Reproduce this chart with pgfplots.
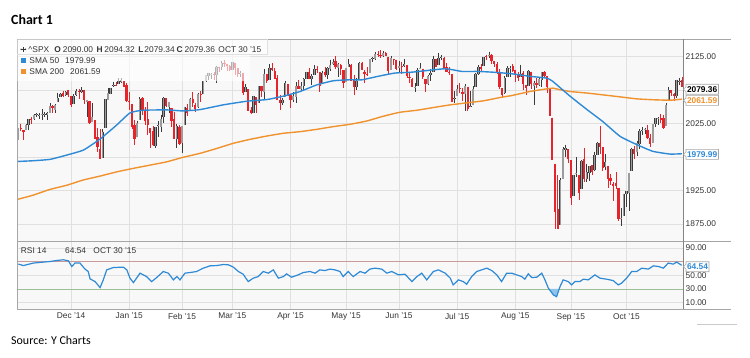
\documentclass[border=0pt]{standalone}
\usepackage{pgfplots}
\pgfplotsset{compat=1.18}
\usepackage{pgfplotstable}
\usepackage{fontspec}
\setmainfont{Liberation Sans}
\newfontfamily\carlito{Carlito}
\definecolor{plotbg}{HTML}{F8F8F8}
\definecolor{gridc}{HTML}{E0E0E0}
\definecolor{framec}{HTML}{A6A6A6}
\definecolor{smablue}{HTML}{2F8AD6}
\definecolor{smaorange}{HTML}{F0922E}
\definecolor{candred}{HTML}{E5252B}
\definecolor{candgray}{HTML}{9C9C9C}
\definecolor{canddark}{HTML}{3A3A3A}
\definecolor{rsired}{HTML}{C99A9A}
\definecolor{rsigreen}{HTML}{9DBF98}
\definecolor{dipfill}{HTML}{8EC3EC}
\definecolor{txtc}{HTML}{333333}
\newcommand{\chartfont}{\fontsize{8.4}{10}\selectfont}

\pgfplotstableread{
i o h l c
0 2001.2 2018.7 2001.2 2018.05
1 2018.2 2024.5 2013.7 2017.81
2 2015.8 2015.8 2001.0 2012.10
3 2015.3 2023.8 2015.3 2023.57
4 2023.3 2031.6 2015.9 2031.21
5 2032.4 2034.3 2025.1 2031.92
6 2032.0 2038.7 2030.2 2038.26
7 2038.2 2041.3 2035.3 2039.68
8 2037.8 2040.3 2031.3 2038.25
9 2039.2 2046.2 2030.4 2039.33
10 2039.7 2042.2 2035.2 2039.82
11 2038.3 2043.1 2030.2 2041.32
12 2041.5 2056.1 2041.5 2051.80
13 2051.2 2052.1 2040.4 2048.72
14 2045.9 2053.8 2040.5 2052.75
15 2057.5 2071.5 2056.8 2063.50
16 2065.1 2070.2 2065.1 2069.41
17 2070.2 2074.2 2064.8 2067.03
18 2067.4 2073.3 2066.6 2072.83
19 2074.8 2075.8 2065.1 2067.56
20 2065.8 2065.8 2049.6 2053.44
21 2053.8 2068.8 2053.8 2066.55
22 2067.5 2076.3 2066.6 2074.33
23 2073.6 2077.3 2062.3 2071.92
24 2072.8 2079.5 2070.8 2075.37
25 2074.8 2075.8 2054.3 2060.31
26 2056.6 2060.6 2034.2 2059.82
27 2058.9 2058.9 2024.3 2026.14
28 2027.9 2055.5 2027.9 2035.33
29 2030.4 2030.4 2002.3 2002.33
30 2005.0 2018.7 1982.3 1989.63
31 1986.7 2016.9 1972.6 1972.74
32 1973.8 2016.8 1973.8 2012.89
33 2018.0 2061.2 2018.0 2061.23
34 2061.0 2077.9 2061.0 2070.65
35 2069.3 2078.8 2069.3 2078.54
36 2081.5 2086.7 2079.8 2082.17
37 2083.3 2087.6 2081.9 2081.88
38 2084.3 2092.7 2084.3 2088.77
39 2087.6 2093.6 2085.8 2090.57
40 2088.5 2088.5 2079.5 2080.35
41 2082.1 2085.7 2057.9 2058.90
42 2058.9 2072.4 2046.0 2058.20
43 2054.4 2054.4 2017.3 2020.58
44 2022.2 2030.3 1992.4 2002.61
45 2005.6 2029.6 2005.6 2025.90
46 2030.6 2064.1 2030.6 2062.14
47 2063.5 2064.4 2038.3 2044.81
48 2046.1 2049.3 2022.6 2028.26
49 2031.6 2056.9 2008.3 2023.03
50 2018.4 2018.4 1988.4 2011.27
51 2013.8 2021.4 1991.5 1992.67
52 1992.3 2020.5 1988.1 2019.42
53 2020.8 2028.9 2004.5 2022.55
54 2020.2 2038.3 2012.0 2032.12
55 2034.3 2064.6 2026.4 2063.15
56 2062.98 2062.98 2050.5 2051.82
57 2050.4 2057.6 2040.97 2057.09
58 2047.9 2047.9 2019.9 2029.55
59 2032.3 2042.5 2001.5 2002.16
60 2002.5 2024.6 1989.2 2021.25
61 2019.4 2023.3 1993.4 1994.99
62 1996.7 2021.7 1980.9 2020.85
63 2022.7 2050.3 2022.7 2050.03
64 2048.9 2054.7 2036.7 2041.51
65 2043.5 2063.6 2043.5 2062.52
66 2062.3 2072.4 2049.97 2055.47
67 2053.5 2056.2 2041.9 2046.74
68 2049.4 2070.9 2048.6 2068.59
69 2068.6 2073.5 2057.99 2068.53
70 2069.98 2088.5 2069.98 2088.48
71 2088.8 2097.0 2086.7 2096.99
72 2096.5 2101.3 2089.8 2100.34
73 2099.2 2100.2 2092.2 2099.68
74 2099.3 2102.1 2090.8 2097.45
75 2097.7 2110.6 2085.4 2110.30
76 2109.8 2110.1 2102.5 2109.66
77 2109.1 2117.9 2105.9 2115.48
78 2115.3 2119.6 2109.9 2113.86
79 2113.9 2113.9 2103.8 2110.74
80 2110.9 2112.7 2103.8 2104.50
81 2105.2 2117.5 2104.5 2117.39
82 2115.8 2115.8 2098.3 2107.78
83 2107.7 2107.7 2094.5 2098.53
84 2098.5 2104.3 2095.2 2101.04
85 2100.9 2100.9 2067.3 2071.26
86 2072.3 2083.5 2072.3 2079.43
87 2076.1 2076.1 2044.2 2044.16
88 2044.7 2050.1 2039.7 2040.24
89 2041.1 2066.4 2041.1 2065.95
90 2064.6 2064.6 2041.2 2053.40
91 2055.4 2081.4 2055.4 2081.19
92 2080.6 2080.6 2065.1 2074.28
93 2072.8 2106.9 2061.2 2099.50
94 2098.7 2098.7 2085.6 2089.27
95 2090.3 2113.9 2090.3 2108.10
96 2107.99 2114.9 2104.4 2104.42
97 2103.9 2107.6 2091.5 2091.50
98 2093.1 2097.4 2061.1 2061.05
99 2059.9 2067.2 2045.5 2056.15
100 2055.8 2062.8 2052.96 2061.02
101 2064.1 2088.97 2064.1 2086.24
102 2084.1 2084.1 2067.0 2067.89
103 2067.6 2067.6 2048.4 2059.69
104 2060.0 2072.2 2057.3 2066.96
105 2064.9 2086.99 2056.5 2080.62
106 2080.8 2089.8 2076.1 2076.33
107 2076.9 2086.7 2073.3 2081.90
108 2081.3 2093.3 2074.3 2091.18
109 2091.5 2102.6 2091.5 2102.06
110 2102.0 2107.7 2092.3 2092.43
111 2092.3 2098.6 2083.2 2095.84
112 2097.8 2111.9 2097.8 2106.63
113 2105.96 2111.3 2100.0 2104.99
114 2102.6 2102.6 2072.4 2081.18
115 2084.1 2103.9 2084.1 2100.40
116 2102.8 2109.6 2094.4 2097.29
117 2098.3 2109.98 2091.1 2107.96
118 2107.2 2120.5 2103.2 2112.93
119 2114.8 2120.9 2112.3 2117.69
120 2119.3 2125.9 2107.0 2108.92
121 2108.4 2116.0 2094.9 2114.76
122 2112.5 2113.6 2097.4 2106.85
123 2105.5 2105.5 2077.6 2085.51
124 2087.4 2108.4 2087.4 2108.29
125 2110.2 2120.95 2110.2 2114.49
126 2112.6 2113.6 2089.1 2089.46
127 2091.3 2098.4 2067.9 2080.15
128 2079.96 2092.9 2074.99 2088.00
129 2092.1 2117.7 2092.1 2116.10
130 2115.6 2117.7 2104.6 2105.33
131 2102.9 2105.1 2085.6 2099.12
132 2099.6 2110.2 2096.0 2098.48
133 2100.4 2121.5 2100.4 2121.10
134 2122.1 2123.9 2116.8 2122.73
135 2121.3 2131.8 2120.0 2129.20
136 2129.5 2133.0 2124.5 2127.83
137 2127.8 2134.7 2122.6 2125.85
138 2125.6 2133.0 2123.9 2130.82
139 2130.4 2132.2 2126.1 2126.06
140 2125.3 2125.3 2099.2 2104.20
141 2105.1 2126.2 2105.1 2123.48
142 2122.3 2122.3 2112.8 2120.79
143 2120.7 2120.7 2104.9 2107.39
144 2108.6 2119.2 2102.5 2111.73
145 2110.4 2117.6 2099.1 2109.60
146 2110.6 2121.9 2109.6 2114.07
147 2112.4 2112.9 2093.2 2095.84
148 2095.1 2100.99 2085.7 2092.83
149 2092.3 2093.0 2079.1 2079.28
150 2079.1 2085.6 2072.1 2080.15
151 2081.1 2108.5 2081.1 2105.20
152 2106.2 2115.0 2106.2 2108.86
153 2107.4 2107.4 2091.3 2094.11
154 2091.3 2091.3 2072.5 2084.43
155 2084.3 2097.4 2082.1 2096.29
156 2097.4 2106.8 2088.9 2100.44
157 2101.6 2126.6 2101.6 2121.24
158 2121.1 2121.6 2109.5 2109.99
159 2112.5 2129.9 2112.5 2122.85
160 2123.2 2128.0 2119.9 2124.20
161 2123.7 2125.1 2108.6 2108.58
162 2109.1 2116.0 2101.8 2102.31
163 2102.6 2108.9 2097.7 2101.49
164 2098.6 2098.6 2056.6 2057.64
165 2061.2 2074.3 2056.3 2063.11
166 2067.0 2082.8 2067.0 2077.42
167 2078.0 2085.1 2071.0 2076.78
168 2073.0 2078.6 2058.4 2068.76
169 2069.5 2083.7 2044.0 2081.34
170 2080.0 2080.0 2044.6 2046.68
171 2049.7 2074.3 2049.7 2051.31
172 2052.7 2081.3 2052.7 2076.62
173 2080.0 2100.7 2080.0 2099.60
174 2099.7 2111.98 2098.2 2108.95
175 2109.0 2114.1 2102.5 2107.40
176 2110.6 2124.4 2110.6 2124.29
177 2126.8 2128.1 2119.9 2126.64
178 2126.9 2132.8 2123.7 2128.28
179 2127.6 2128.4 2114.2 2119.21
180 2118.2 2118.5 2110.0 2114.15
181 2114.2 2116.9 2098.6 2102.15
182 2102.2 2106.0 2077.1 2079.65
183 2078.2 2078.2 2063.5 2067.64
184 2070.8 2095.6 2069.1 2093.25
185 2094.1 2110.6 2094.1 2108.57
186 2106.8 2110.5 2094.1 2108.63
187 2111.6 2114.2 2102.1 2103.84
188 2104.5 2105.7 2087.3 2098.04
189 2097.7 2102.5 2088.6 2093.32
190 2095.3 2112.7 2095.3 2099.84
191 2100.0 2103.3 2075.5 2083.56
192 2082.6 2082.6 2067.9 2077.57
193 2080.98 2105.4 2080.98 2104.18
194 2102.7 2102.7 2076.5 2084.07
195 2081.1 2089.1 2052.1 2086.05
196 2086.2 2092.9 2078.3 2083.39
197 2083.2 2092.5 2080.6 2091.54
198 2089.7 2102.9 2079.3 2102.44
199 2101.5 2103.5 2094.1 2096.92
200 2095.7 2095.7 2070.5 2079.61
201 2076.6 2076.6 2035.7 2035.73
202 2034.1 2034.1 1970.9 1970.89
203 1965.2 1965.2 1867.0 1893.21
204 1898.1 1948.0 1867.1 1867.61
205 1872.8 1943.1 1872.8 1940.51
206 1942.8 1989.6 1942.8 1987.66
207 1986.1 1993.5 1975.2 1988.87
208 1986.7 1986.7 1965.98 1972.18
209 1970.1 1970.1 1903.1 1913.85
210 1916.5 1948.9 1916.5 1948.86
211 1950.8 1975.0 1944.7 1951.13
212 1947.8 1947.8 1911.2 1921.22
213 1927.3 1970.4 1927.3 1969.41
214 1971.5 1988.6 1937.9 1942.04
215 1941.6 1965.3 1937.2 1952.29
216 1951.5 1961.1 1939.2 1961.05
217 1963.1 1963.1 1948.3 1953.03
218 1955.1 1983.2 1954.3 1978.09
219 1978.0 1997.3 1977.9 1995.31
220 1995.3 2020.9 1980.3 1990.20
221 1989.7 1989.7 1953.5 1958.03
222 1960.8 1979.6 1955.8 1966.97
223 1961.4 1961.4 1929.2 1942.74
224 1943.2 1949.5 1932.6 1938.76
225 1934.8 1937.2 1908.9 1932.24
226 1935.9 1952.9 1928.0 1931.34
227 1929.2 1929.2 1879.2 1881.77
228 1881.9 1899.5 1871.9 1884.09
229 1887.1 1920.5 1887.1 1920.03
230 1919.7 1924.0 1900.97 1923.82
231 1921.8 1951.4 1893.7 1951.36
232 1954.3 1989.2 1954.3 1987.05
233 1986.6 1991.6 1971.99 1979.92
234 1982.3 1999.3 1976.4 1995.83
235 1994.0 2016.5 1987.5 2013.43
236 2013.7 2020.1 2007.6 2014.89
237 2015.7 2018.7 2010.2 2017.46
238 2015.0 2022.3 2001.8 2003.69
239 2003.7 2009.6 1990.7 1994.24
240 1996.5 2024.2 1996.5 2023.86
241 2024.4 2033.5 2020.5 2033.11
242 2031.7 2034.5 2022.3 2033.66
243 2033.1 2039.1 2026.6 2030.77
244 2033.5 2037.97 2017.2 2018.94
245 2021.9 2055.2 2021.9 2052.51
246 2058.2 2079.7 2058.2 2075.15
247 2075.1 2075.1 2066.5 2071.18
248 2068.8 2070.4 2058.8 2065.89
249 2066.5 2090.4 2063.1 2090.35
250 2088.4 2092.5 2082.6 2089.41
251 2090.0 2094.3 2079.3 2079.36
}\spx

\newcommand{\valbox}[4]{% y-center, right x, text color, text
  \draw[framec, fill=white, line width=0.6bp] (683.5,#1) -- (686,#1+2.5) -- (686,#1+5) -- (#2,#1+5) -- (#2,#1-5) -- (686,#1-5) -- (686,#1-2.5) -- cycle;
  \node[anchor=west, inner sep=0pt, text=#3, font=\chartfont\bfseries] at (686.8,#1) {#4};
}

\begin{document}
\begin{tikzpicture}
\path[use as bounding box] (-17bp,-116.3bp) rectangle (733bp,241.7bp);

% ---------------- price panel ----------------
\begin{axis}[
  name=price,
  at={(0pt,0pt)}, anchor=south west,
  width=666bp, height=202.7bp, scale only axis,
  xmin=-0.42, xmax=251.4, ymin=1848.5, ymax=2151.5,
  axis background/.style={fill=plotbg},
  axis line style={draw=none},
  xtick={20,42,62,81,103,124,144,166,188,209,230}, xticklabels={},
  ytick={1875,1925,1975,2025,2075,2125},
  yticklabels={1875.00,1925.00,,2025.00,,2125.00},
  yticklabel pos=right,
  yticklabel style={font=\chartfont, text=txtc, anchor=west, inner sep=0pt, xshift=2.5bp},
  major tick length=0pt,
  grid=major, grid style={draw=gridc, line width=0.6bp},
  clip=true,
]
% wicks
\addplot[draw=none, mark=none, forget plot,
  restrict expr to domain={\thisrow{c}-\thisrow{o}}{-5000:-0.00001},
  error bars/.cd, y dir=minus, y explicit, error mark=none,
  error bar style={draw=candred, line width=0.6bp}]
  table[x=i, y=h, y error expr={\thisrow{h}-\thisrow{l}}] {\spx};
\addplot[draw=none, mark=none, forget plot,
  restrict expr to domain={\thisrow{c}-\thisrow{o}}{0:5000},
  error bars/.cd, y dir=minus, y explicit, error mark=none,
  error bar style={draw=canddark, line width=0.6bp}]
  table[x=i, y=h, y error expr={\thisrow{h}-\thisrow{l}}] {\spx};
% down bodies
\addplot[draw=none, mark=none, forget plot,
  restrict expr to domain={\thisrow{c}-\thisrow{o}}{-5000:-0.00001},
  error bars/.cd, y dir=minus, y explicit, error mark=none,
  error bar style={draw=candred, line width=2.2bp, line cap=butt}]
  table[x=i, y=o, y error expr={\thisrow{o}-\thisrow{c}}] {\spx};
% up bodies
\addplot[draw=none, mark=none, forget plot,
  restrict expr to domain={\thisrow{c}-\thisrow{o}}{0:5000},
  error bars/.cd, y dir=minus, y explicit, error mark=none,
  error bar style={draw=canddark, line width=2.4bp, line cap=butt}]
  table[x=i, y=c, y error expr={\thisrow{c}-\thisrow{o}}] {\spx};
\addplot[draw=none, mark=none, forget plot,
  restrict expr to domain={\thisrow{c}-\thisrow{o}}{0:5000},
  error bars/.cd, y dir=minus, y explicit, error mark=none,
  error bar style={draw=candgray, line width=1.4bp, line cap=butt}]
  table[x=i, y=c, y error expr={\thisrow{c}-\thisrow{o}}] {\spx};
% SMA 200
\addplot[smaorange, line width=1.4bp, mark=none, smooth, tension=0.3] coordinates {
(0,1912) (5.6,1918) (12.1,1926.7) (18.5,1933) (24.5,1940.6) (31,1946.6) (37.4,1953) (43.4,1958) (49.9,1963) (56.3,1968) (62.3,1974.6) (68.8,1980.6) (75.2,1988) (81.3,1995.5) (87.7,2001.5) (94.1,2006.5) (100.2,2010.5) (106.6,2013) (113,2016.5) (119.1,2020.5) (125.5,2024) (131.9,2029) (138,2036) (144.4,2042) (150.8,2045) (156.9,2049) (163.3,2053) (169.6,2056) (175.8,2059) (182.2,2064) (186.7,2067) (193.5,2073) (199.9,2077) (202.2,2078) (204.9,2075.7) (208.7,2073) (215.1,2070.7) (221.1,2068) (227.6,2065) (234,2062) (240,2060.7) (246.5,2060) (251,2061.59)};
% SMA 50
\addplot[smablue, line width=1.4bp, mark=none, smooth, tension=0.3] coordinates {
(0,1968.5) (5.6,1969.5) (12.1,1971.6) (18.4,1978) (24.7,1985.5) (31,2002) (37.3,2023) (42.3,2041) (47.2,2045) (56.3,2045.5) (62.3,2044) (68.8,2046) (77.5,2053) (86.5,2058.5) (94.1,2061) (100.2,2066) (106.6,2073) (113,2083) (119.1,2089) (125.5,2090.6) (130,2090.5) (136.1,2095.7) (142.5,2100.6) (149.1,2102) (161.4,2107) (167.8,2103) (173.9,2103) (180.3,2101.7) (186.7,2099.5) (193.5,2095.7) (199.9,2093) (202.2,2088) (208.7,2066) (215.1,2046) (221.1,2028) (227.6,2006) (234,1993.5) (240,1983.6) (246.5,1979.5) (251,1979.99)};
\end{axis}

% ---------------- RSI panel ----------------
\begin{axis}[
  name=rsi,
  at={(0pt,-67.3bp)}, anchor=south west,
  width=666bp, height=67.3bp, scale only axis,
  xmin=-0.42, xmax=251.4, ymin=0.7, ymax=98.9,
  axis background/.style={fill=plotbg},
  axis line style={draw=none},
  xtick={20,42,62,81,103,124,144,166,188,209,230},
  xticklabels={Dec '14,Jan '15,Feb '15,Mar '15,Apr '15,May '15,Jun '15,Jul '15,Aug '15,Sep '15,Oct '15},
  xticklabel style={font=\chartfont, text=txtc, anchor=north, inner sep=0pt, yshift=-4bp},
  ytick={10,30,50,90},
  yticklabels={10.00,30.00,50.00,90.00},
  yticklabel pos=right,
  yticklabel style={font=\chartfont, text=txtc, anchor=west, inner sep=0pt, xshift=2.5bp},
  major tick length=0pt,
  xmajorgrids, grid style={draw=gridc, line width=0.6bp},
  clip=true,
]
\addplot[draw=gridc, line width=0.6bp, mark=none, forget plot] coordinates {(-0.42,90) (251.4,90)};
\addplot[draw=gridc, line width=0.6bp, mark=none, forget plot] coordinates {(-0.42,50) (251.4,50)};
\addplot[draw=gridc, line width=0.6bp, mark=none, forget plot] coordinates {(-0.42,10) (251.4,10)};
\addplot[draw=rsired, line width=0.8bp, mark=none, forget plot] coordinates {(-0.42,70) (251.4,70)};
\addplot[draw=rsigreen, line width=0.8bp, mark=none, forget plot] coordinates {(-0.42,30) (251.4,30)};
\addplot[fill=dipfill, draw=none, mark=none, forget plot] coordinates {(200.6,30) (202.4,21.2) (203.6,18.7) (204.6,30)} -- cycle;
\addplot[smablue, line width=1.2bp, mark=none] coordinates {
(0.1,66.2) (2.0,64.1) (5.7,67.7) (9.5,69.1) (12.1,70.0) (14.6,71.5) (17.1,72.5) (19.0,71.0) (20.3,62.7) (21.5,67.7) (23.4,67.7) (25.3,58.9) (26.5,55.4) (27.2,44.7) (29.1,40.7) (31.0,31.9) (32.2,43.2) (33.5,57.8) (36.0,61.2) (39.8,61.8) (41.1,57.8) (42.3,45.7) (43.6,39.2) (46.1,53.0) (48.6,48.0) (50.5,40.7) (52.4,46.6) (54.9,55.4) (56.8,53.0) (58.7,43.2) (60.0,48.0) (61.2,43.2) (63.1,53.0) (65.0,53.9) (67.5,55.4) (70.0,60.3) (72.6,63.7) (75.1,64.1) (77.6,65.6) (79.5,65.2) (81.4,61.8) (83.3,55.4) (85.1,51.5) (87.0,40.7) (88.9,45.7) (90.8,48.0) (92.7,55.4) (94.6,53.0) (96.5,57.8) (98.4,45.7) (100.3,48.0) (101.5,52.0) (103.4,47.1) (105.9,50.5) (107.8,53.9) (110.4,55.4) (112.3,53.0) (114.1,57.8) (116.0,56.8) (117.9,58.9) (119.8,57.8) (121.7,55.4) (122.9,48.0) (124.8,55.4) (126.7,48.0) (129.3,55.4) (131.2,53.0) (133.0,58.9) (134.9,60.3) (137.5,58.9) (139.4,53.0) (141.3,55.4) (143.8,50.5) (146.3,51.5) (148.9,40.7) (150.8,48.0) (152.6,53.0) (154.5,43.2) (157.0,55.4) (158.9,57.8) (161.5,53.0) (163.4,45.7) (164.5,35.9) (166.5,43.2) (168.3,40.7) (169.6,36.9) (171.5,48.0) (173.4,55.4) (175.3,57.8) (177.2,60.3) (179.1,56.8) (181.0,50.5) (182.8,40.7) (184.7,53.0) (186.6,53.0) (188.5,50.5) (190.4,48.0) (191.6,44.2) (192.9,52.0) (194.2,46.6) (196.1,47.1) (198.0,53.0) (199.2,43.2) (200.5,31.0) (202.4,21.2) (203.6,18.7) (204.9,33.4) (206.1,43.2) (208.0,40.7) (209.3,35.9) (210.5,40.7) (212.4,40.7) (213.7,44.2) (215.6,43.2) (218.1,50.5) (220.0,45.7) (222.5,44.2) (225.0,42.2) (226.9,35.9) (228.2,38.4) (230.1,45.7) (232.0,55.4) (233.9,55.4) (235.8,60.3) (238.3,58.9) (240.2,63.7) (242.1,62.7) (244.0,60.3) (245.8,67.7) (247.7,66.2) (249.0,69.1) (250.9,64.54)};
\end{axis}

\begin{scope}[x=1bp, y=1bp, shift={(-17bp,-116.3bp)}]
% ---------------- frame ----------------
\draw[framec, line width=0.8bp] (17,319) -- (731,319);
\draw[framec, line width=0.8bp] (17,116.3) -- (731,116.3);
\draw[framec, line width=0.8bp] (17,49) -- (731,49);
\draw[framec, line width=0.8bp] (17,49) -- (17,319);
\draw[framec!80!black, line width=0.8bp] (683,49) -- (683,319);
\draw[framec!60, line width=0.6bp] (697,34) -- (737,34);

% ---------------- legend overlay ----------------
\fill[white, opacity=0.6] (17.4,318.6) -- (267,318.6) -- (267,304) -- (250,304) -- (250,277) -- (17.4,277) -- cycle;
\draw[gridc, line width=0.5bp] (17.4,304) -- (267,304) -- (267,318.6);
\begin{scope}[font=\chartfont, text=txtc]
  \draw[txtc, line width=0.5bp] (20.8,308.7) -- (25.8,308.7) (23.3,306.2) -- (23.3,311.2);
  \fill[txtc] (20.3,308.7) -- (21.5,309.7) -- (21.5,307.7) -- cycle;
  \fill[txtc] (26.3,308.7) -- (25.1,309.7) -- (25.1,307.7) -- cycle;
  \node[anchor=west, inner sep=0pt] at (28.3,308.7) {\textasciicircum SPX};
  \node[anchor=west, inner sep=0pt, font=\chartfont\bfseries] at (54.3,308.7) {O};
  \node[anchor=west, inner sep=0pt] at (62.7,308.7) {2090.00};
  \node[anchor=west, inner sep=0pt, font=\chartfont\bfseries] at (96.5,308.7) {H};
  \node[anchor=west, inner sep=0pt] at (104.3,308.7) {2094.32};
  \node[anchor=west, inner sep=0pt, font=\chartfont\bfseries] at (138.3,308.7) {L};
  \node[anchor=west, inner sep=0pt] at (144.3,308.7) {2079.34};
  \node[anchor=west, inner sep=0pt, font=\chartfont\bfseries] at (176.5,308.7) {C};
  \node[anchor=west, inner sep=0pt] at (184.5,308.7) {2079.36};
  \node[anchor=west, inner sep=0pt] at (218.3,308.7) {OCT 30 '15};
  \fill[smablue] (20.7,295.2) rectangle (25.7,300.2);
  \node[anchor=west, inner sep=0pt] at (29.3,297.7) {SMA 50};
  \node[anchor=west, inner sep=0pt] at (65,297.7) {1979.99};
  \fill[smaorange] (20.7,284.2) rectangle (25.7,289.2);
  \node[anchor=west, inner sep=0pt] at (29.3,286.7) {SMA 200};
  \node[anchor=west, inner sep=0pt] at (70,286.7) {2061.59};
  \node[anchor=west, inner sep=0pt] at (20.7,107) {RSI 14};
  \node[anchor=west, inner sep=0pt] at (65,107) {64.54};
  \node[anchor=west, inner sep=0pt] at (93.3,107) {OCT 30 '15};
\end{scope}

% ---------------- value boxes ----------------
\valbox{268.8}{718.5}{black}{2079.36}
\valbox{257.6}{718.5}{smaorange}{2061.59}
\valbox{203.7}{718.5}{smablue}{1979.99}
\valbox{91.3}{709}{smablue}{64.54}

% ---------------- title and source ----------------
\node[anchor=west, inner sep=0pt, font=\carlito\bfseries\fontsize{14}{16}\selectfont] at (11,338) {Chart 1};
\node[anchor=west, inner sep=0pt, font=\carlito\fontsize{12}{14}\selectfont] at (11,18) {Source: Y Charts};
\end{scope}
\end{tikzpicture}
\end{document}
